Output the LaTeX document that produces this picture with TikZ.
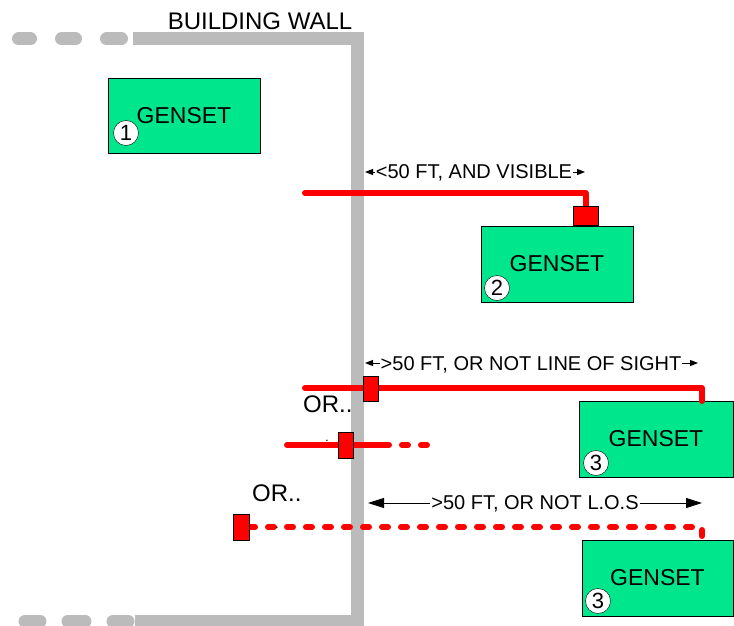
\documentclass[tikz,border=0pt]{standalone}
\usepackage{fontspec}
\setmainfont{Liberation Sans}
\usetikzlibrary{arrows.meta}
\definecolor{gensetgreen}{RGB}{0,230,140}
\definecolor{wallgray}{RGB}{187,187,187}
\tikzset{
  wall/.style={wallgray,line width=13pt},
  feeder/.style={red,line width=6pt,line cap=round,line join=round},
  feederdash/.style={feeder,dash pattern=on 6pt off 13pt},
  genset/.style={draw=black,fill=gensetgreen,minimum width=152pt,minimum height=76pt,inner sep=0pt,font=\fontsize{23}{23}\selectfont},
  num/.style={circle,draw=black,fill=white,minimum size=25pt,inner sep=0pt,font=\fontsize{22}{22}\selectfont},
  switchbox/.style={draw=black,fill=red,inner sep=0pt},
  dimsmall/.style={line width=1pt,{Triangle[length=8pt,width=6pt]}-{Triangle[length=8pt,width=6pt]}},
  dimbig/.style={line width=1pt,{Triangle[length=16pt,width=10pt]}-{Triangle[length=16pt,width=10pt]}},
  dimtext/.style={fill=white,inner xsep=1pt,inner ysep=2pt,anchor=base,font=\fontsize{20}{20}\selectfont},
  label/.style={inner sep=0pt,font=\fontsize{24}{24}\selectfont}
}
\begin{document}
\begin{tikzpicture}[x=1pt,y=-1pt]
  \useasboundingbox (0,0) rectangle (734,626);
  % wall
  \draw [wall,line join=miter](133,39) -| (357.5,621) -- (135,621);
  \foreach \a/\b in {18.5/30.5,61.5/75.5,106.5/121.5}
    \draw [wall,line cap=round](\a,39)--(\b,39);
  \foreach \a/\b in {25/40,68/85,113/128}
    \draw [wall,line cap=round](\a,621)--(\b,621);
  \node [label,anchor=base] (walllabel) at (260,30) {BUILDING WALL};
  % gensets
  \node [genset,minimum height=75pt] (g1) at (184,115.5) {GENSET};
  \node [genset] (g2) at (557,264) {GENSET};
  \node [genset,minimum width=154pt] (g3) at (656,439) {GENSET};
  \node [genset,minimum width=151pt] (g4) at (657.5,578) {GENSET};
  \node [num] (n1) at (126,133) {1};
  \node [num] (n2) at (497,288) {2};
  \node [num] (n3) at (596,463) {3};
  \node [num] (n4) at (598,601) {3};
  % feeders
  \coordinate (a1) at (305,193);
  \coordinate (t1) at (585.5,206);
  \coordinate (a2) at (305,388);
  \coordinate (s2) at (370.5,388.5);
  \coordinate (e2) at (702,401);
  \coordinate (a3) at (287,445);
  \coordinate (s3) at (345.5,445);
  \coordinate (b3) at (383,445);
  \coordinate (c3) at (430,445);
  \coordinate (a4) at (249,527);
  \coordinate (e4) at (702,542);
  \draw [feeder](a1) -| (t1);
  \draw [feeder](a2) -| (e2);
  \draw [feeder](a3)--(b3);
  \draw [feederdash](b3)--(c3);
  \draw [feederdash](a4) -| (e4);
  \node [switchbox,minimum width=25pt,minimum height=19pt,anchor=north] (sw1) at (t1) {};
  \node [switchbox,minimum width=15pt,minimum height=25pt] (sw2) at (s2) {};
  \node [switchbox,minimum width=15pt,minimum height=26pt] (sw3) at (s3) {};
  \node [switchbox,minimum width=16pt,minimum height=26pt,anchor=east] (sw4) at (a4) {};
  % distances
  \coordinate (d1l) at (365,172);
  \coordinate (d1r) at (585,172);
  \coordinate (d2l) at (365,363);
  \coordinate (d2r) at (698,363);
  \coordinate (d3l) at (368,503);
  \coordinate (d3r) at (702,503);
  \draw [dimsmall](d1l)--(d1r);
  \draw [dimsmall](d2l)--(d2r);
  \draw [dimbig](d3l)--(d3r);
  \node [dimtext] (d1) at (474,178) {<50 FT, AND VISIBLE};
  \node [dimtext] (d2) at (531,370) {>50 FT, OR NOT LINE OF SIGHT};
  \node [dimtext] (d3) at (535,509) {>50 FT, OR NOT L.O.S};
  \node [label,anchor=base west] (or1) at (303,412) {OR..};
  \node [label,anchor=base west] (or2) at (252,501) {OR..};
  \node [inner sep=0pt,font=\fontsize{12}{12}\selectfont] (dot1) at (327,441) {.};
  \node [inner sep=0pt,font=\fontsize{12}{12}\selectfont] (dot2) at (277,528) {.};
\end{tikzpicture}
\end{document}
